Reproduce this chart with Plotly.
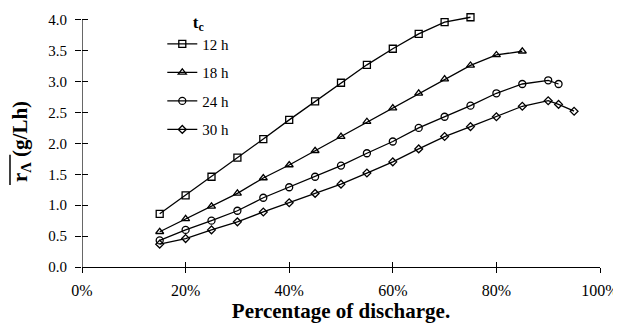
import plotly.graph_objects as go

x12 = [15, 20, 25, 30, 35, 40, 45, 50, 55, 60, 65, 70, 75]
y12 = [0.86, 1.16, 1.46, 1.77, 2.07, 2.38, 2.68, 2.98, 3.27, 3.53, 3.77, 3.96, 4.04]
x18 = [15, 20, 25, 30, 35, 40, 45, 50, 55, 60, 65, 70, 75, 80, 85]
y18 = [0.57, 0.78, 0.98, 1.19, 1.44, 1.65, 1.88, 2.11, 2.35, 2.57, 2.81, 3.04, 3.26, 3.43, 3.49]
x24 = [15, 20, 25, 30, 35, 40, 45, 50, 55, 60, 65, 70, 75, 80, 85, 90, 92]
y24 = [0.43, 0.60, 0.75, 0.91, 1.12, 1.29, 1.46, 1.64, 1.84, 2.03, 2.25, 2.43, 2.61, 2.81, 2.96, 3.02, 2.96]
x30 = [15, 20, 25, 30, 35, 40, 45, 50, 55, 60, 65, 70, 75, 80, 85, 90, 92, 95]
y30 = [0.37, 0.46, 0.60, 0.73, 0.89, 1.04, 1.19, 1.34, 1.52, 1.70, 1.91, 2.11, 2.27, 2.43, 2.60, 2.69, 2.63, 2.52]

xtick_vals = [0, 20, 40, 60, 80, 100]
xtick_text = ["0%", "20%", "40%", "60%", "80%", "100%"]
ytick_vals = [0.0, 0.5, 1.0, 1.5, 2.0, 2.5, 3.0, 3.5, 4.0]
ytick_text = ["0.0", "0.5", "1.0", "1.5", "2.0", "2.5", "3.0", "3.5", "4.0"]

series = [
    ("12 h", x12, y12, "square-open", 7),
    ("18 h", x18, y18, "triangle-up-open", 7),
    ("24 h", x24, y24, "circle-open", 7),
    ("30 h", x30, y30, "diamond-open", 6),
]

FONT = "Liberation Serif"
YR = [0, 4.06]
fig = go.Figure()
for i, (name, xs, ys, sym, sz) in enumerate(series):
    fig.add_trace(go.Scatter(
        x=xs, y=ys, name=name, mode="lines+markers", legendgroup=str(i),
        cliponaxis=False,
        line=dict(color="black", width=1.3),
        marker=dict(symbol=sym, size=sz, color="black", line=dict(width=1.3, color="black")),
    ))

# invisible trace on overlay axes to get crossing ticks
fig.add_trace(go.Scatter(x=[xtick_vals[0]], y=[ytick_vals[0]], xaxis="x2", yaxis="y2",
                         mode="markers", marker=dict(opacity=0), showlegend=False,
                         hoverinfo="skip"))

# page body has an 8px margin; figure is 613x316 placed at (8,8)
fig.update_layout(
    width=613, height=316,
    margin=dict(l=74, r=21, t=8.3, b=57, autoexpand=False),
    paper_bgcolor="white", plot_bgcolor="white",
    font=dict(family=FONT, color="black", size=15),
    showlegend=True,
    legend=dict(
        x=0.155, y=1.0415, xanchor="left", yanchor="top",
        title=dict(text="<b>t<sub>c</sub></b>", side="top center", font=dict(size=17)),
        font=dict(size=15), tracegroupgap=6, bgcolor="rgba(0,0,0,0)",
        itemwidth=30,
    ),
    xaxis=dict(
        range=[0, 100], tickvals=xtick_vals, ticktext=xtick_text,
        showgrid=False, zeroline=False, showline=True, linecolor="black", linewidth=1.2,
        ticks="outside", ticklen=5, tickcolor="black", ticklabelstandoff=4,
        tickfont=dict(size=16),
        title=dict(text="<b>Percentage of discharge.</b>", font=dict(size=21), standoff=2),
    ),
    yaxis=dict(
        range=YR, tickvals=ytick_vals, ticktext=ytick_text,
        showgrid=False, zeroline=False, showline=False,
        ticks="outside", ticklen=6, tickcolor="black", ticklabelstandoff=5,
        tickfont=dict(size=15),
        title=dict(text="<b>r<sub>Λ</sub> (g/Lh)</b>", font=dict(size=21), standoff=15),
    ),
    xaxis2=dict(overlaying="x", matches="x", range=[0, 100], tickvals=xtick_vals,
                showticklabels=False, ticks="inside", ticklen=5, tickcolor="black",
                showgrid=False, zeroline=False, showline=False, anchor="y2"),
    yaxis2=dict(overlaying="y", matches="y", range=YR, tickvals=ytick_vals,
                showticklabels=False, ticks="inside", ticklen=6, tickcolor="black",
                showgrid=False, zeroline=False, showline=False, anchor="x2"),
)
# y axis line from first to last tick
fig.add_shape(type="line", xref="x", yref="y", layer="below",
              x0=xtick_vals[0], x1=xtick_vals[0], y0=ytick_vals[0], y1=ytick_vals[-1],
              line=dict(color="black", width=1.2))
# overline over r_A in the y title
fig.add_shape(type="line", xref="paper", yref="paper",
              x0=-0.139, x1=-0.139, y0=0.327, y1=0.447,
              line=dict(color="black", width=1.5))
fig.write_html("out.html")
